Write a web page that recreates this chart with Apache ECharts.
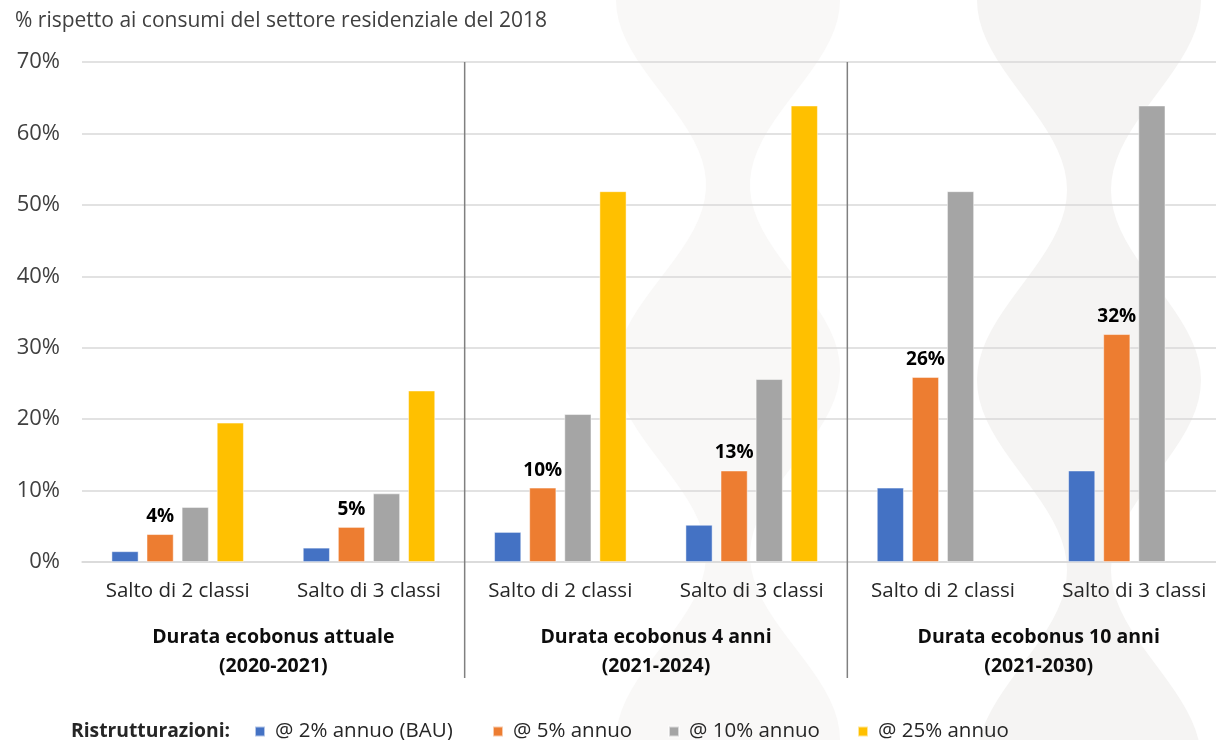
<!DOCTYPE html>
<html>
<head>
<meta charset="utf-8">
<script src="https://cdn.jsdelivr.net/npm/echarts@6/dist/echarts.min.js"></script>
<style>
html,body{margin:0;padding:0;background:#fff;}
#chart{width:1216px;height:740px;}
</style>
</head>
<body>
<div id="chart"></div>
<script>
// ---- data ----
var categories = ['Salto di 2 classi','Salto di 3 classi','Salto di 2 classi','Salto di 3 classi','Salto di 2 classi','Salto di 3 classi'];
var groupLabels = ['Durata ecobonus attuale\n(2020-2021)','Durata ecobonus 4 anni\n(2021-2024)','Durata ecobonus 10 anni\n(2021-2030)'];
var seriesNames = ['@ 2% annuo (BAU)','@ 5% annuo','@ 10% annuo','@ 25% annuo'];
var rate2 = [1.5, 2.0, 4.2, 5.2, 10.4, 12.8];
var rate5 = [3.9, 4.9, 10.4, 12.8, 25.9, 31.9];
var rate10 = [7.7, 9.6, 20.7, 25.6, 51.9, 63.9];
var rate25 = [19.5, 24.0, 51.9, 63.9, null, null];
var yTicks = {min: 0, max: 70, interval: 10};
var titleText = '% rispetto ai consumi del settore residenziale del 2018';
var legendTitle = 'Ristrutturazioni:';

var FONT = '"Open Sans", Lato, sans-serif';
var colors = ['#4472C4','#ED7D31','#A5A5A5','#FFC000'];
var values = [rate2, rate5, rate10, rate25];

var chart = echarts.init(document.getElementById('chart'), null, {renderer:'canvas'});

var series = values.map(function(v, i){
  var s = {
    name: seriesNames[i],
    type: 'bar',
    data: v,
    barWidth: 27,
    barGap: '30%',
    itemStyle: {color: colors[i], borderColor: 'rgba(255,255,255,0.6)', borderWidth: 0.8},
    emphasis: {disabled: true}
  };
  if (i === 1) {
    s.label = {
      show: true, position: 'top', distance: 8,
      formatter: function(p){ return Math.round(p.value) + '%'; },
      fontFamily: FONT, fontWeight: 'bold', fontSize: 19, color: '#000'
    };
  }
  return s;
});

var legendLefts = [254, 492, 668, 857];
var legends = seriesNames.map(function(n, i){
  return {
    data: [n], left: legendLefts[i], top: 721, icon: 'rect',
    itemWidth: 10, itemHeight: 10, itemGap: 0, padding: 0,
    textStyle: {fontFamily: FONT, fontSize: 20.5, color: '#262626', padding: [0,0,0,5]},
    selectedMode: false
  };
});

var option = {
  animation: false,
  backgroundColor: '#ffffff',
  title: [
    {text: titleText, left: 15, top: 11, padding: 0,
     textStyle: {fontFamily: FONT, fontSize: 21, fontWeight: 'normal', color: '#404040'}},
    {text: legendTitle, left: 71, top: 722, padding: 0,
     textStyle: {fontFamily: FONT, fontSize: 19.3, fontWeight: 'bold', color: '#262626'}}
  ],
  legend: legends,
  grid: {left: 82, width: 1148, top: 62, bottom: 178, outerBoundsMode: 'none', containLabel: false},
  xAxis: [
    {type: 'category', data: categories,
     axisLine: {show: true, lineStyle: {color: '#D9D9D9', width: 1.5}},
     axisTick: {show: false},
     axisLabel: {interval: 0, margin: 19, fontFamily: FONT, fontSize: 20.5, color: '#262626'}},
    {type: 'category', data: groupLabels, position: 'bottom',
     axisLine: {show: false}, axisTick: {show: false}, splitLine: {show: false},
     axisLabel: {interval: 0, margin: 61, fontFamily: FONT, fontSize: 19.5, fontWeight: 'bold', lineHeight: 29, color: '#0d0d0d'}}
  ],
  yAxis: {
    type: 'value', min: yTicks.min, max: yTicks.max, interval: yTicks.interval,
    axisLine: {show: false}, axisTick: {show: false},
    axisLabel: {formatter: '{value}%', margin: 22, fontFamily: FONT, fontSize: 22, color: '#404040'},
    splitLine: {lineStyle: {color: '#D9D9D9', width: 1.5}}
  },
  series: series
};
chart.setOption(option);

// decorative background ribbons
function ribbon(cx, mid, amp, period, phase){
  var left = [], right = [];
  for (var y = -20; y <= 760; y += 10) {
    var hw = mid + amp * Math.cos(2 * Math.PI * (y - phase) / period);
    left.push([cx - hw, y]);
    right.unshift([cx + hw, y]);
  }
  return left.concat(right);
}
var graphics = [
  {type: 'polygon', z: -10, silent: true, shape: {points: ribbon(728, 67, 45, 370, 0), smooth: 0}, style: {fill: '#F9F8F7'}},
  {type: 'polygon', z: -10, silent: true, shape: {points: ribbon(1089, 67, 45, 380, 0), smooth: 0}, style: {fill: '#F5F4F3'}}
];
// separators between groups, derived from the category axis
var topY = chart.convertToPixel({yAxisIndex: 0}, yTicks.max);
[1, 3].forEach(function(k){
  var x = (chart.convertToPixel({xAxisIndex: 0}, k) + chart.convertToPixel({xAxisIndex: 0}, k + 1)) / 2;
  graphics.push({type: 'line', z: 50, silent: true,
    shape: {x1: x, y1: topY, x2: x, y2: 678},
    style: {stroke: '#808080', lineWidth: 1.5}});
});
chart.setOption({graphic: graphics});
</script>
</body>
</html>
